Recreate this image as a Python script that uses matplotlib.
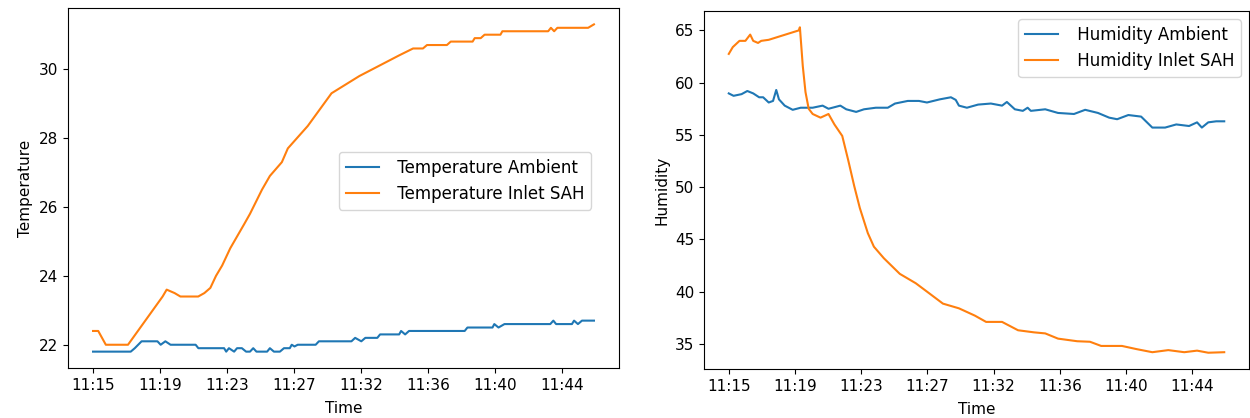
import matplotlib
matplotlib.use("Agg")
import matplotlib.pyplot as plt
import numpy as np

# time axis labels (one every ~4.14 min of samples)
tick_labels = ["11:15", "11:19", "11:23", "11:27", "11:32", "11:36", "11:40", "11:44"]
tick_step = 4.143  # minutes between labelled samples

# temperature, minutes since first sample
t_temp_inlet = [0, 0.32, 0.79, 2.16, 4.3, 4.55, 5.04, 5.4, 6.5, 6.88, 7.25, 7.6, 7.98,
                8.48, 9.34, 9.7, 10.44, 10.93, 11.67, 12.04, 13.27, 14.74, 16.46,
                17.69, 18.92, 19.78, 20.39, 20.64, 21.87, 22.11, 23.46, 23.59, 23.96,
                24.2, 25.18, 25.3, 28.13, 28.3, 28.5, 28.7, 29.0, 30.6, 30.96]
temp_inlet = [22.4, 22.4, 22.0, 22.0, 23.4, 23.6, 23.5, 23.4, 23.4, 23.5, 23.65, 24.0, 24.3,
              24.8, 25.5, 25.8, 26.5, 26.9, 27.3, 27.7, 28.35, 29.3, 29.8,
              30.1, 30.4, 30.6, 30.6, 30.7, 30.7, 30.8, 30.8, 30.9, 30.9,
              31.0, 31.0, 31.1, 31.1, 31.2, 31.1, 31.2, 31.2, 31.2, 31.3]

t_temp_amb = [0, 2.33, 2.58, 3.0, 3.98, 4.18, 4.47, 4.79, 6.34, 6.51, 8.1, 8.23, 8.4, 8.72,
              8.9, 9.2, 9.46, 9.7, 9.9, 10.1, 10.76, 10.93, 11.18, 11.55, 11.8, 12.16,
              12.28, 12.45, 12.65, 13.76, 13.96, 15.97, 16.2, 16.58, 16.83, 17.57, 17.74,
              18.92, 19.04, 19.29, 19.53, 22.97, 23.14, 24.69, 24.8, 25.06, 25.43, 28.26,
              28.45, 28.62, 29.6, 29.73, 29.97, 30.22, 30.96]
temp_amb = [21.8, 21.8, 21.9, 22.1, 22.1, 22.0, 22.1, 22.0, 22.0, 21.9, 21.9, 21.8, 21.9, 21.8,
            21.9, 21.9, 21.8, 21.8, 21.9, 21.8, 21.8, 21.9, 21.8, 21.8, 21.9, 21.9,
            22.0, 21.95, 22.0, 22.0, 22.1, 22.1, 22.2, 22.1, 22.2, 22.2, 22.3,
            22.3, 22.4, 22.3, 22.4, 22.4, 22.5, 22.5, 22.6, 22.5, 22.6, 22.6,
            22.7, 22.6, 22.6, 22.7, 22.6, 22.7, 22.7]

# humidity
t_hum_inlet = [0, 0.25, 0.67, 1.04, 1.34, 1.53, 1.83, 2.03, 2.5, 4.38, 4.45, 4.63, 4.8, 5.0,
               5.25, 5.74, 6.24, 6.61, 7.1, 7.47, 7.85, 8.2, 8.7, 9.08, 9.7, 10.7, 11.7,
               12.4, 13.4, 14.4, 15.4, 16.1, 17.1, 18.1, 19.1, 19.8, 20.6, 21.8, 22.6,
               23.3, 24.6, 25.5, 26.5, 27.5, 28.5, 29.3, 30.0, 31.0]
hum_inlet = [62.75, 63.4, 64.0, 64.0, 64.6, 64.0, 63.8, 64.0, 64.1, 65.0, 65.3, 61.6, 59.1, 57.5,
             57.0, 56.65, 57.0, 56.0, 54.9, 52.6, 50.1, 48.0, 45.6, 44.3, 43.2, 41.7, 40.8,
             40.0, 38.85, 38.4, 37.7, 37.1, 37.1, 36.3, 36.1, 36.0, 35.5, 35.25, 35.2,
             34.8, 34.8, 34.5, 34.2, 34.4, 34.2, 34.35, 34.15, 34.2]

t_hum_amb = [0, 0.3, 0.8, 1.16, 1.53, 1.9, 2.15, 2.5, 2.77, 2.97, 3.14, 3.5, 4.0, 4.5, 5.25,
             5.87, 6.24, 6.98, 7.35, 7.97, 8.46, 9.2, 9.95, 10.4, 11.2, 11.9, 12.4, 13.2,
             13.9, 14.2, 14.4, 14.9, 15.6, 16.4, 17.1, 17.4, 17.9, 18.4, 18.7, 18.9, 19.8,
             20.6, 21.6, 22.3, 23.1, 23.8, 24.3, 25.0, 25.8, 26.5, 27.3, 28.0, 28.8, 29.3,
             29.6, 30.0, 30.5, 31.0]
hum_amb = [58.97, 58.74, 58.9, 59.2, 58.97, 58.6, 58.6, 58.1, 58.25, 59.3, 58.4, 57.8, 57.4, 57.6, 57.6,
           57.8, 57.5, 57.8, 57.45, 57.2, 57.45, 57.6, 57.6, 58.0, 58.25, 58.25, 58.1, 58.4,
           58.6, 58.35, 57.8, 57.6, 57.9, 58.0, 57.8, 58.15, 57.45, 57.3, 57.6, 57.3, 57.45,
           57.1, 57.0, 57.4, 57.1, 56.65, 56.5, 56.9, 56.75, 55.7, 55.7, 56.0, 55.85, 56.2,
           55.7, 56.2, 56.3, 56.3]

plt.rcParams['font.size'] = 11

fig = plt.figure(figsize=(12.5, 4.18), dpi=100)
ax1 = fig.add_axes([68/1250, 50/418, 551/1250, 360/418])
ax2 = fig.add_axes([704/1250, 49/418, 545/1250, 358/418])

ticks = np.arange(len(tick_labels)) * tick_step

ax1.plot(t_temp_amb, temp_amb, label=" Temperature Ambient")
ax1.plot(t_temp_inlet, temp_inlet, label=" Temperature Inlet SAH")
ax1.set_xticks(ticks, tick_labels)
ax1.set_xlabel("Time", labelpad=6)
ax1.set_ylabel("Temperature")
ax1.legend(loc="center right", bbox_to_anchor=(0.965, 0.52), fontsize=12)

ax2.plot(t_hum_amb, hum_amb, label=" Humidity Ambient")
ax2.plot(t_hum_inlet, hum_inlet, label=" Humidity Inlet SAH")
ax2.set_xticks(ticks, tick_labels)
ax2.set_xlabel("Time", labelpad=6)
ax2.set_ylabel("Humidity")
ax2.legend(loc="upper right", fontsize=12)

fig.savefig("out.png")
